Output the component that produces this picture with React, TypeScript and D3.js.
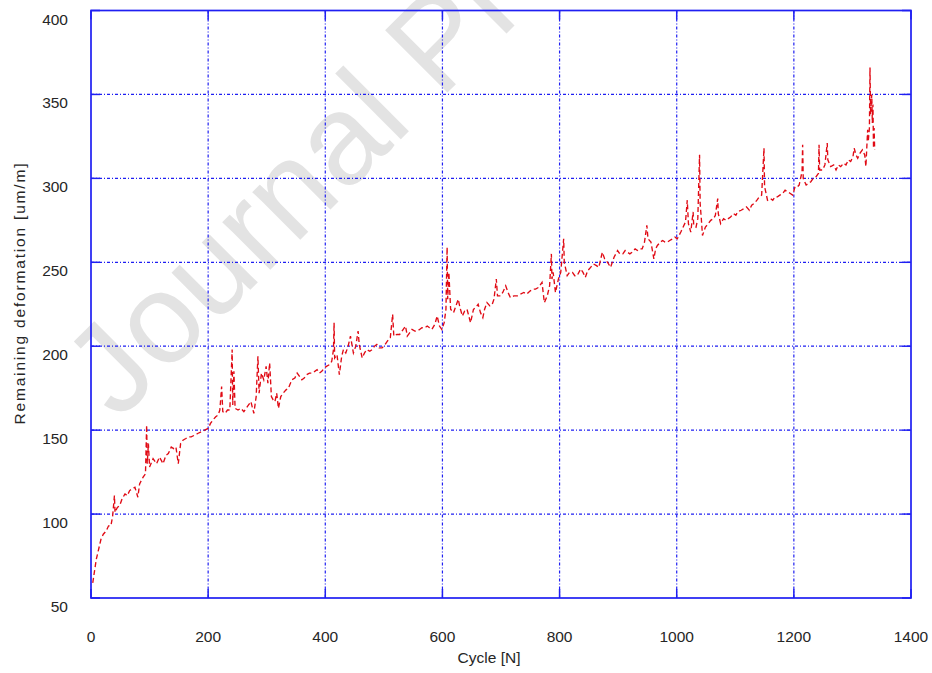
import React from "react";
import * as d3 from "d3";

// Cycle numbers and the remaining deformation measured after each one
const cycles = [
  3, 6, 9, 13, 17, 21, 26, 30, 34, 37, 39, 40, 41, 45, 49, 53, 58, 62, 66, 70,
  75, 80, 83, 89, 93, 95, 96, 98, 100, 106, 112, 117, 123, 128, 132, 137, 141, 145, 149, 153,
  157, 162, 166, 171, 177, 182, 188, 194, 200, 204, 208, 213, 217, 220, 223, 225, 229, 233, 237, 241,
  242, 244, 246, 251, 256, 261, 265, 269, 273, 278, 282, 285, 287, 291, 295, 299, 302, 305, 308, 311,
  314, 317, 320, 324, 328, 333, 337, 343, 348, 352, 356, 360, 364, 368, 373, 377, 382, 386, 390, 394,
  398, 402, 407, 411, 414, 415, 416, 420, 424, 428, 431, 435, 439, 443, 448, 452, 456, 458, 463, 467,
  471, 476, 480, 484, 488, 492, 497, 502, 506, 511, 515, 517, 522, 527, 531, 537, 540, 544, 548, 553,
  557, 561, 565, 570, 574, 578, 582, 587, 591, 595, 599, 603, 606, 608, 609, 611, 614, 619, 623, 627,
  630, 634, 638, 642, 648, 653, 657, 661, 665, 669, 672, 676, 681, 685, 688, 692, 694, 699, 703, 708,
  712, 716, 722, 728, 733, 739, 744, 750, 755, 759, 764, 770, 774, 779, 783, 786, 787, 789, 793, 798,
  802, 807, 808, 813, 817, 822, 826, 830, 836, 840, 844, 848, 853, 858, 863, 867, 873, 877, 882, 887,
  893, 899, 903, 908, 912, 916, 920, 924, 929, 933, 937, 941, 945, 949, 951, 956, 961, 964, 967, 972,
  976, 980, 984, 988, 993, 997, 1001, 1004, 1007, 1011, 1015, 1018, 1020, 1024, 1028, 1029, 1033, 1036, 1039, 1040,
  1042, 1044, 1049, 1054, 1058, 1063, 1066, 1070, 1071, 1075, 1080, 1084, 1088, 1092, 1097, 1101, 1104, 1110, 1115, 1119,
  1124, 1128, 1132, 1137, 1141, 1145, 1149, 1150, 1152, 1155, 1160, 1164, 1168, 1172, 1176, 1181, 1185, 1189, 1194, 1198,
  1202, 1206, 1209, 1214, 1215, 1216, 1221, 1225, 1229, 1233, 1238, 1242, 1243, 1244, 1249, 1253, 1257, 1258, 1263, 1268,
  1272, 1276, 1280, 1285, 1289, 1293, 1297, 1301, 1303, 1306, 1309, 1313, 1317, 1321, 1323, 1326, 1327, 1329, 1330, 1331,
  1333, 1334, 1335, 1336, 1337, 1338,
];

const deformation = [
  59, 66, 73, 79, 85, 88, 90, 93, 93, 99, 107, 111, 101, 104, 105, 109, 112, 111, 114, 115,
  116, 110, 118, 122, 124, 153, 130, 142, 128, 133, 130, 134, 130, 135, 136, 140, 139, 140, 130, 142,
  144, 145, 146, 146, 147, 148, 149, 150, 151, 154, 156, 158, 159, 162, 176, 161, 160, 162, 162, 198,
  165, 185, 163, 162, 163, 161, 163, 165, 167, 160, 170, 194, 172, 184, 180, 188, 178, 190, 170, 168,
  167, 172, 163, 170, 172, 174, 175, 180, 181, 184, 182, 180, 181, 183, 184, 184, 185, 186, 184, 185,
  187, 188, 189, 191, 198, 214, 193, 195, 183, 194, 198, 196, 200, 206, 196, 200, 209, 201, 193, 196,
  198, 197, 198, 200, 201, 199, 199, 201, 203, 205, 219, 206, 207, 207, 209, 212, 206, 208, 210, 209,
  209, 210, 211, 211, 212, 211, 210, 213, 218, 212, 210, 214, 222, 259, 228, 244, 222, 220, 224, 228,
  223, 218, 221, 222, 214, 222, 223, 225, 220, 217, 222, 226, 224, 225, 228, 240, 230, 230, 232, 236,
  232, 229, 230, 230, 231, 232, 231, 233, 234, 234, 235, 238, 226, 230, 236, 255, 240, 244, 232, 240,
  244, 264, 250, 242, 244, 244, 242, 242, 246, 244, 241, 245, 247, 249, 248, 247, 256, 252, 250, 247,
  253, 257, 255, 255, 257, 256, 255, 256, 258, 257, 258, 258, 262, 272, 264, 262, 252, 258, 260, 262,
  263, 262, 262, 263, 264, 265, 264, 266, 268, 271, 274, 287, 273, 268, 280, 272, 271, 276, 314, 285,
  276, 266, 271, 273, 275, 276, 278, 288, 279, 273, 276, 275, 276, 277, 279, 278, 280, 281, 282, 283,
  281, 284, 285, 287, 289, 290, 318, 295, 292, 287, 288, 287, 289, 289, 290, 291, 293, 292, 291, 290,
  295, 295, 296, 304, 320, 300, 296, 297, 298, 300, 301, 303, 320, 305, 305, 308, 321, 311, 307, 308,
  305, 308, 307, 309, 308, 311, 310, 313, 318, 314, 312, 315, 317, 314, 307, 329, 322, 330, 366, 338,
  350, 333, 344, 318, 330, 317,
];

const xTicks = [0, 200, 400, 600, 800, 1000, 1200, 1400];
const yTicks = [50, 100, 150, 200, 250, 300, 350, 400];

const W = 932;
const H = 673;
const left = 91;
const right = 911;
const top = 10.5;
const bottom = 598;

export default function App() {
  const x = d3.scaleLinear().domain([0, 1400]).range([left, right]);
  const y = d3.scaleLinear().domain([50, 400]).range([bottom, top]);

  const points: [number, number][] = cycles.map((c, i) => [c, deformation[i]]);
  const line = d3
    .line<[number, number]>()
    .x((d) => x(d[0]))
    .y((d) => y(d[1]));

  const blue = "#1f1ff2";
  const gridDash = "3,2,1,2";
  const tickLen = 9;
  const font = "'Liberation Sans', Arial, Helvetica, sans-serif";
  const labelSize = 15.5;

  return (
    <svg
      width={W}
      height={H}
      viewBox={`0 0 ${W} ${H}`}
      style={{ position: "absolute", left: 0, top: 0, background: "#fff" }}
    >
      <rect x={0} y={0} width={W} height={H} fill="#fff" />

      {/* watermark */}
      <text
        x={0}
        y={0}
        transform="translate(118,422) rotate(-45)"
        fontFamily={font}
        fontSize={128}
        fill="#e3e3e3"
      >
        Journal Pre-proof
      </text>

      {/* grid */}
      <g stroke={blue} strokeWidth={1.2} strokeDasharray={gridDash} fill="none">
        {xTicks.slice(1, -1).map((t) => (
          <line key={`gx${t}`} x1={x(t)} x2={x(t)} y1={top} y2={bottom} />
        ))}
        {yTicks.slice(1, -1).map((t) => (
          <line key={`gy${t}`} x1={left} x2={right} y1={y(t)} y2={y(t)} />
        ))}
      </g>

      {/* tick marks on all four sides */}
      <g stroke={blue} strokeWidth={1.5}>
        {xTicks.map((t) => (
          <g key={`tx${t}`}>
            <line x1={x(t)} x2={x(t)} y1={bottom} y2={bottom - tickLen} />
            <line x1={x(t)} x2={x(t)} y1={top} y2={top + tickLen} />
          </g>
        ))}
        {yTicks.map((t) => (
          <g key={`ty${t}`}>
            <line x1={left} x2={left + tickLen} y1={y(t)} y2={y(t)} />
            <line x1={right} x2={right - tickLen} y1={y(t)} y2={y(t)} />
          </g>
        ))}
      </g>

      {/* data */}
      <path
        d={line(points) ?? ""}
        fill="none"
        stroke="#e00a14"
        strokeWidth={1.35}
        strokeDasharray="5,3"
      />

      {/* frame */}
      <rect
        x={left}
        y={top}
        width={right - left}
        height={bottom - top}
        fill="none"
        stroke={blue}
        strokeWidth={1.7}
      />

      {/* tick labels */}
      <g fontFamily={font} fontSize={labelSize} fill="#262626">
        {xTicks.map((t) => (
          <text key={`lx${t}`} x={x(t)} y={642} textAnchor="middle">
            {t}
          </text>
        ))}
        {yTicks.map((t) => (
          <text key={`ly${t}`} x={68} y={y(t) + 14} textAnchor="end">
            {t}
          </text>
        ))}
      </g>

      {/* axis titles */}
      <text
        x={(left + right) / 2 - 12}
        y={663}
        textAnchor="middle"
        fontFamily={font}
        fontSize={labelSize}
        fill="#262626"
      >
        Cycle [N]
      </text>
      <text
        transform={`translate(25,294) rotate(-90)`}
        textAnchor="middle"
        fontFamily={font}
        fontSize={labelSize}
        fill="#262626"
        textLength={261}
        lengthAdjust="spacing"
      >
        Remaining deformation [um/m]
      </text>
    </svg>
  );
}
